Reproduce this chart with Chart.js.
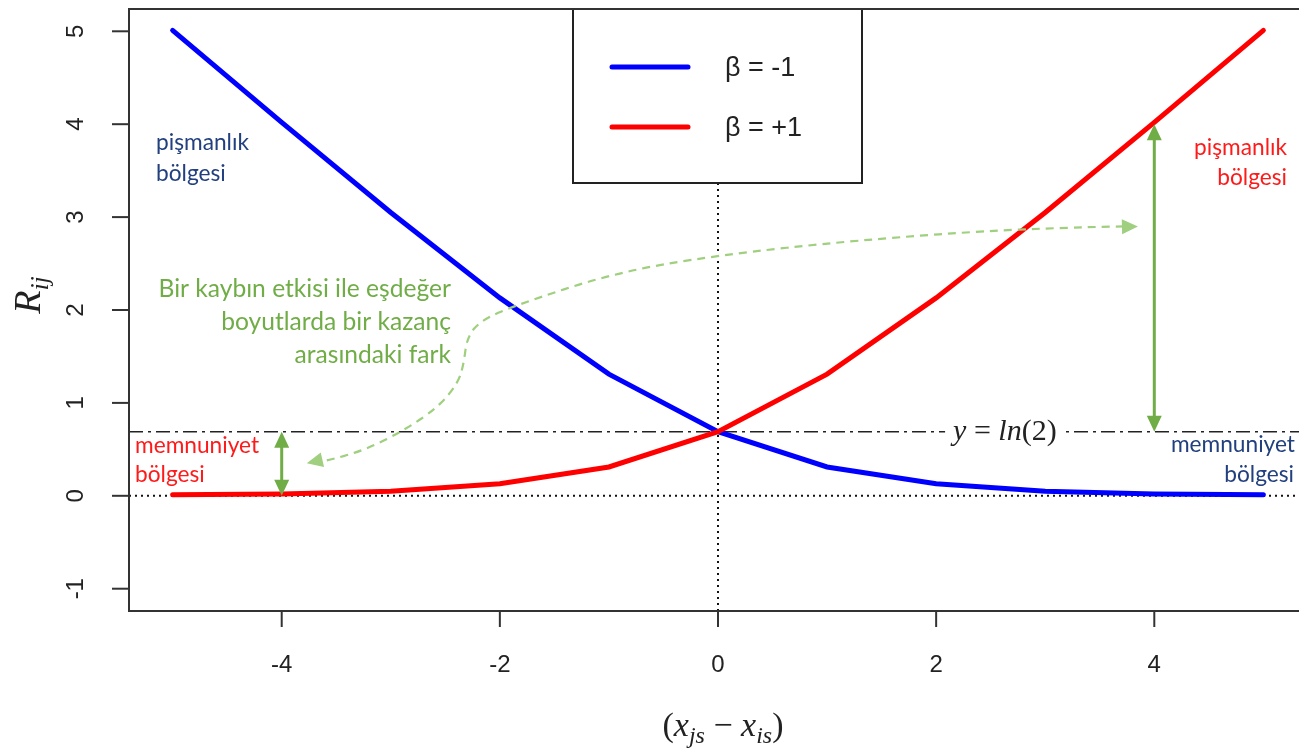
<!DOCTYPE html>
<html>
<head>
<meta charset="utf-8">
<script src="https://cdn.jsdelivr.net/npm/chart.js@4/dist/chart.umd.min.js"></script>
<style>
html, body { margin: 0; padding: 0; background: #fff; overflow: hidden; }
#wrap { width: 1299px; height: 751px; overflow: hidden; }
</style>
</head>
<body>
<div id="wrap"><canvas id="rij" width="1320" height="751"></canvas></div>
<script>
// values
var xs = [-5, -4, -3, -2, -1, 0, 1, 2, 3, 4, 5];
var negBeta = [5.01, 4.02, 3.05, 2.13, 1.31, 0.69, 0.31, 0.13, 0.05, 0.02, 0.01];
var posBeta = [0.01, 0.02, 0.05, 0.13, 0.31, 0.69, 1.31, 2.13, 3.05, 4.02, 5.01];
var xTicks = [-4, -2, 0, 2, 4];
var yTicks = [-1, 0, 1, 2, 3, 4, 5];
var seriesLabels = ["β = -1", "β = +1"];
var ln2 = 0.69;

var GREEN = '#70ad47';
var GREEN_LIGHT = '#9fcf7f';
var NAVY = '#22407f';
var RED = '#ff1a1a';
var SANS = 'Lato, "Open Sans", sans-serif';

function pts(ys) {
  return xs.map(function (x, i) { return { x: x, y: ys[i] }; });
}

function seg(ctx, x1, y1, x2, y2) {
  ctx.beginPath(); ctx.moveTo(x1, y1); ctx.lineTo(x2, y2); ctx.stroke();
}

function head(ctx, fx, fy, tx, ty, len, wid) {
  var ang = Math.atan2(ty - fy, tx - fx);
  ctx.save();
  ctx.translate(tx, ty);
  ctx.rotate(ang);
  ctx.beginPath();
  ctx.moveTo(0, 0);
  ctx.lineTo(-len, wid / 2);
  ctx.lineTo(-len, -wid / 2);
  ctx.closePath();
  ctx.fill();
  ctx.restore();
}

// draws pieces of [text, font, dy] left to right, starting at x
function pieces(ctx, x, y, parts) {
  var cx = x;
  parts.forEach(function (p) {
    ctx.font = p[1];
    ctx.fillText(p[0], cx, y + (p[2] || 0));
    cx += ctx.measureText(p[0]).width;
  });
  return cx - x;
}
function piecesWidth(ctx, parts) {
  var w = 0;
  parts.forEach(function (p) { ctx.font = p[1]; w += ctx.measureText(p[0]).width; });
  return w;
}

var rPlot = {
  id: 'rPlot',
  beforeDatasetsDraw: function (c) {
    var ctx = c.ctx, a = c.chartArea, X = c.scales.x, Y = c.scales.y;
    ctx.save();
    ctx.strokeStyle = '#111';
    ctx.lineWidth = 2;
    ctx.setLineDash([2, 4]);
    seg(ctx, a.left, Y.getPixelForValue(0), a.right, Y.getPixelForValue(0));
    seg(ctx, X.getPixelForValue(0), a.bottom, X.getPixelForValue(0), a.top);
    ctx.lineWidth = 1.6;
    ctx.strokeStyle = '#222';
    ctx.setLineDash([14, 5, 3, 5]);
    seg(ctx, a.left, Y.getPixelForValue(ln2), a.right, Y.getPixelForValue(ln2));
    ctx.setLineDash([]);

    // y = ln(2) label
    var ly = Y.getPixelForValue(ln2);
    var lx = X.getPixelForValue(2.63);
    var it = 'italic 30px "Liberation Serif", serif';
    var up = '30px "Liberation Serif", serif';
    var parts = [['y', it], [' = ', up], ['ln', it], ['(2)', up]];
    var w = piecesWidth(ctx, parts);
    ctx.fillStyle = '#fff';
    ctx.fillRect(lx - w / 2 - 8, ly - 14, w + 16, 28);
    ctx.fillStyle = '#222';
    ctx.textBaseline = 'middle';
    ctx.textAlign = 'left';
    pieces(ctx, lx - w / 2, ly, parts);
    ctx.restore();
  },
  afterDatasetsDraw: function (c) {
    var ctx = c.ctx, a = c.chartArea, X = c.scales.x, Y = c.scales.y;
    ctx.save();

    // green double arrows
    ctx.strokeStyle = GREEN; ctx.fillStyle = GREEN; ctx.lineWidth = 3;
    [[-4, 0, ln2], [4, ln2, 4]].forEach(function (d) {
      var x = X.getPixelForValue(d[0]);
      var y1 = Y.getPixelForValue(d[1]), y2 = Y.getPixelForValue(d[2]);
      seg(ctx, x, y1 - 8, x, y2 + 8);
      head(ctx, x, y2 + 20, x, y2, 16, 15);
      head(ctx, x, y1 - 20, x, y1, 16, 15);
    });

    // dashed curved arrow
    var path = [[3.85, 2.90], [2.79, 2.88], [1.26, 2.75], [0, 2.59], [-0.95, 2.40],
      [-1.86, 2.05], [-2.17, 1.89], [-2.30, 1.71], [-2.33, 1.43], [-2.38, 1.22],
      [-2.56, 0.96], [-2.87, 0.71], [-3.24, 0.49], [-3.61, 0.37], [-3.77, 0.35]];
    var p = path.map(function (q) { return [X.getPixelForValue(q[0]), Y.getPixelForValue(q[1])]; });
    ctx.strokeStyle = GREEN_LIGHT; ctx.fillStyle = GREEN_LIGHT; ctx.lineWidth = 2.2;
    ctx.setLineDash([8, 6]);
    ctx.beginPath();
    ctx.moveTo(p[0][0] - 14, p[0][1]);
    for (var i = 1; i < p.length - 1; i++) {
      var mx = (p[i][0] + p[i + 1][0]) / 2, my = (p[i][1] + p[i + 1][1]) / 2;
      ctx.quadraticCurveTo(p[i][0], p[i][1], mx, my);
    }
    ctx.stroke();
    ctx.setLineDash([]);
    head(ctx, p[1][0], p[1][1] + 1, p[0][0], p[0][1], 16, 15);
    var n = p.length;
    head(ctx, p[n - 3][0], p[n - 3][1], p[n - 1][0], p[n - 1][1], 16, 15);

    // region labels
    ctx.textBaseline = 'middle';
    ctx.font = '22.7px ' + SANS;
    ctx.fillStyle = NAVY; ctx.textAlign = 'left';
    ctx.fillText('pişmanlık', 156, 143);
    ctx.fillText('bölgesi', 156, 174);
    ctx.textAlign = 'right';
    ctx.fillText('memnuniyet', 1295, 445);
    ctx.fillText('bölgesi', 1294, 475);
    ctx.fillStyle = RED;
    ctx.fillText('pişmanlık', 1287, 148);
    ctx.fillText('bölgesi', 1287, 178);
    ctx.textAlign = 'left';
    ctx.fillText('memnuniyet', 135, 446);
    ctx.fillText('bölgesi', 135, 475);

    ctx.fillStyle = GREEN; ctx.textAlign = 'right';
    ctx.font = '24.6px ' + SANS;
    ctx.fillText('Bir kaybın etkisi ile eşdeğer', 451, 289);
    ctx.fillText('boyutlarda bir kazanç', 451, 322);
    ctx.fillText('arasındaki fark', 451, 355);

    // legend box
    var cx = X.getPixelForValue(0);
    var bl = cx - 145, bt = a.top, bw = 289, bh = 174;
    ctx.fillStyle = '#fff';
    ctx.fillRect(bl, bt, bw, bh);
    ctx.strokeStyle = '#222'; ctx.lineWidth = 2;
    ctx.strokeRect(bl, bt, bw, bh);
    var cols = ['#0000ff', '#ff0000'];
    ctx.lineCap = 'round';
    ctx.font = '27px "Liberation Sans", Arial, sans-serif';
    ctx.textAlign = 'left';
    for (var k = 0; k < 2; k++) {
      var ly = bt + 58 + k * 60;
      ctx.strokeStyle = cols[k]; ctx.lineWidth = 5;
      seg(ctx, bl + 39, ly, bl + 115, ly);
      ctx.fillStyle = '#222';
      ctx.fillText(c.data.datasets[k].label, bl + 152, ly + 2);
    }
    ctx.lineCap = 'butt';

    // frame
    ctx.strokeStyle = '#333'; ctx.lineWidth = 2;
    ctx.strokeRect(a.left, a.top, a.right - a.left, a.bottom - a.top);

    // ticks and tick labels
    ctx.fillStyle = '#222';
    ctx.font = '24px "Liberation Sans", Arial, sans-serif';
    ctx.textAlign = 'center';
    ctx.textBaseline = 'middle';
    xTicks.forEach(function (t) {
      var x = X.getPixelForValue(t);
      seg(ctx, x, a.bottom, x, a.bottom + 16);
      ctx.fillText(String(t), x, 665);
    });
    yTicks.forEach(function (t) {
      var y = Y.getPixelForValue(t);
      seg(ctx, a.left - 17, y, a.left, y);
      ctx.save();
      ctx.translate(76, y);
      ctx.rotate(-Math.PI / 2);
      ctx.fillText(String(t), 0, 0);
      ctx.restore();
    });

    // axis titles
    var it = 'italic 34px "Liberation Serif", serif';
    var up = '34px "Liberation Serif", serif';
    var sub = 'italic 24px "Liberation Serif", serif';
    ctx.textAlign = 'left';
    ctx.textBaseline = 'alphabetic';
    var xl = [['(', up], ['x', it], ['js', sub, 7], [' − ', up], ['x', it], ['is', sub, 7], [')', up]];
    var xw = piecesWidth(ctx, xl);
    pieces(ctx, X.getPixelForValue(0) - xw / 2 + 5, 736, xl);

    var yl = [['R', 'italic 38px "Liberation Serif", serif'], ['ij', 'italic 26px "Liberation Serif", serif', 8]];
    var yw = piecesWidth(ctx, yl);
    ctx.save();
    ctx.translate(40, 295);
    ctx.rotate(-Math.PI / 2);
    pieces(ctx, -yw / 2, 0, yl);
    ctx.restore();

    ctx.restore();
  }
};

new Chart(document.getElementById('rij'), {
  type: 'line',
  data: {
    datasets: [
      {
        label: seriesLabels[0],
        data: pts(negBeta),
        borderColor: '#0000ff',
        borderWidth: 5,
        pointRadius: 0,
        borderCapStyle: 'round',
        tension: 0,
        order: 1
      }, {
        label: seriesLabels[1],
        data: pts(posBeta),
        borderColor: '#ff0000',
        borderWidth: 5,
        pointRadius: 0,
        borderCapStyle: 'round',
        tension: 0,
        order: 0
      }
    ]
  },
  options: {
    responsive: false,
    animation: false,
    layout: { padding: { left: 129, right: 13, top: 9, bottom: 140 } },
    plugins: { legend: { display: false }, tooltip: { enabled: false } },
    scales: {
      x: { type: 'linear', min: -5.4, max: 5.4, display: false },
      y: { min: -1.24, max: 5.24, display: false }
    }
  },
  plugins: [rPlot]
});
</script>
</body>
</html>
